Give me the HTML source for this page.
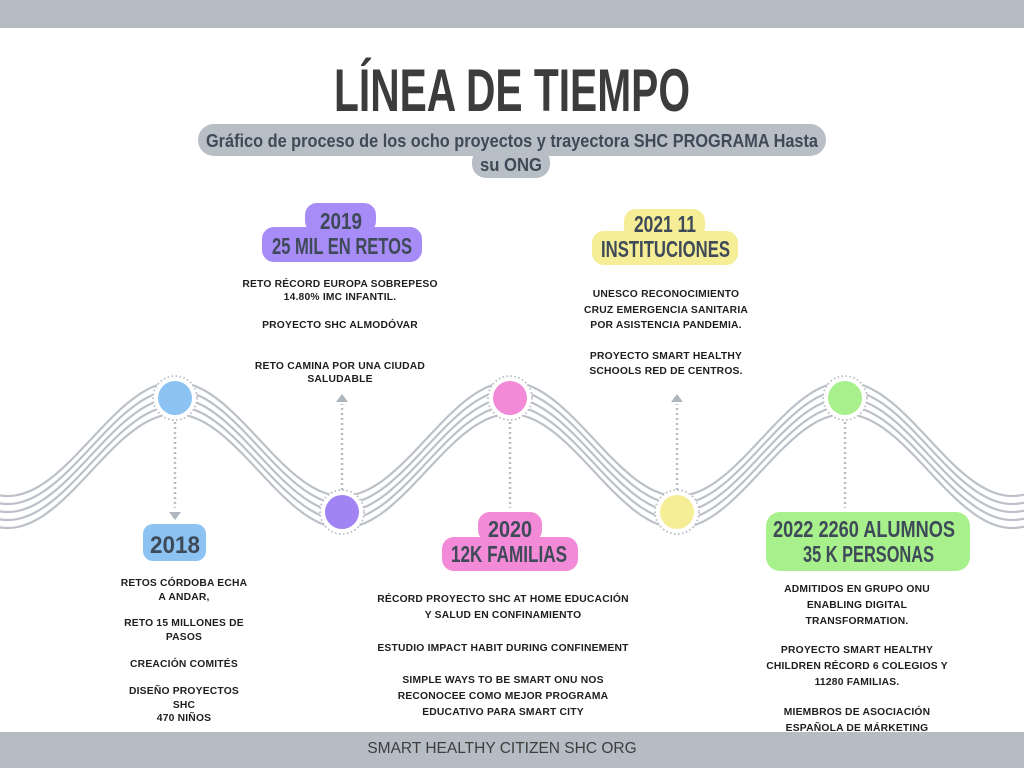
<!DOCTYPE html>
<html><head><meta charset="utf-8"><style>
html,body{margin:0;padding:0;background:#fff;width:1024px;height:768px;overflow:hidden}
svg{display:block}
.c{font-family:"Liberation Sans Narrow","Liberation Sans",sans-serif;font-weight:bold;fill:#3f4a58}
.b{font-family:"Liberation Sans",sans-serif;font-weight:bold;font-size:10.3px;letter-spacing:0.2px;fill:#1e1e1e;text-anchor:middle}
</style></head><body>
<svg id="s" width="1024" height="768" viewBox="0 0 1024 768" xmlns="http://www.w3.org/2000/svg">
<rect x="0" y="0" width="1024" height="28" fill="#b6bcc3"/>
<rect x="0" y="732" width="1024" height="36" fill="#b6bcc3"/>
<text x="502" y="749" text-anchor="middle" font-family="Liberation Sans,sans-serif" font-size="15.5" fill="#3d3d3d" dominant-baseline="middle">SMART HEALTHY CITIZEN SHC ORG</text>

<text class="c" x="334" y="111" font-size="60" style="fill:#3c3c3c" textLength="356" lengthAdjust="spacingAndGlyphs">LÍNEA DE TIEMPO</text>
<rect x="198" y="124" width="628" height="32" rx="16" fill="#b8bec5"/>
<rect x="472" y="148" width="78" height="30" rx="14" fill="#b8bec5"/>
<text class="c" x="206" y="147" font-size="18" textLength="612" lengthAdjust="spacingAndGlyphs">Gráfico de proceso de los ocho proyectos y trayectora SHC PROGRAMA Hasta</text>
<text class="c" x="480" y="171" font-size="18" textLength="62" lengthAdjust="spacingAndGlyphs">su ONG</text>

<g id="waves" fill="none" stroke="#bcc1c7" stroke-width="2.2"></g>

<g stroke="#b8bdc3" stroke-width="2.5" stroke-dasharray="2 3">
<line x1="175" y1="422" x2="175" y2="508"/>
<line x1="342" y1="490" x2="342" y2="404"/>
<line x1="510" y1="422" x2="510" y2="508"/>
<line x1="677" y1="490" x2="677" y2="404"/>
<line x1="845" y1="422" x2="845" y2="508"/>
</g>
<g fill="#b0b6bd">
<polygon points="169,512 181,512 175,520"/>
<polygon points="336,402 348,402 342,394"/>
<polygon points="504,512 516,512 510,520"/>
<polygon points="671,402 683,402 677,394"/>
<polygon points="839,512 851,512 845,520"/>
</g>

<g stroke="#b8bdc3" stroke-width="1.8" stroke-dasharray="1.5 2.5">
<circle cx="175" cy="398" r="22" fill="#fff"/>
<circle cx="342" cy="512" r="22" fill="#fff"/>
<circle cx="510" cy="398" r="22" fill="#fff"/>
<circle cx="677" cy="512" r="22" fill="#fff"/>
<circle cx="845" cy="398" r="22" fill="#fff"/>
</g>
<circle cx="175" cy="398" r="17" fill="#8dc3f3"/>
<circle cx="342" cy="512" r="17" fill="#a183f3"/>
<circle cx="510" cy="398" r="17" fill="#f28ad7"/>
<circle cx="677" cy="512" r="17" fill="#f5ee96"/>
<circle cx="845" cy="398" r="17" fill="#a8f08c"/>

<rect x="305" y="203" width="71" height="30" rx="12" fill="#a78bf6"/>
<rect x="262" y="227" width="160" height="35" rx="12" fill="#a78bf6"/>
<text class="c" x="320" y="229" font-size="23" textLength="42" lengthAdjust="spacingAndGlyphs">2019</text>
<text class="c" x="272" y="254" font-size="23" textLength="140" lengthAdjust="spacingAndGlyphs">25 MIL EN RETOS</text>
<text class="b" x="340" y="287">RETO RÉCORD EUROPA SOBREPESO</text>
<text class="b" x="340" y="300">14.80% IMC INFANTIL.</text>
<text class="b" x="340" y="328">PROYECTO SHC ALMODÓVAR</text>
<text class="b" x="340" y="369">RETO CAMINA POR UNA CIUDAD</text>
<text class="b" x="340" y="382">SALUDABLE</text>

<rect x="624" y="209" width="81" height="30" rx="12" fill="#f5ee96"/>
<rect x="592" y="231" width="146" height="34" rx="12" fill="#f5ee96"/>
<text class="c" x="634" y="232" font-size="23" textLength="62" lengthAdjust="spacingAndGlyphs">2021 11</text>
<text class="c" x="601" y="257" font-size="23" textLength="129" lengthAdjust="spacingAndGlyphs">INSTITUCIONES</text>
<text class="b" x="666" y="297">UNESCO RECONOCIMIENTO</text>
<text class="b" x="666" y="313">CRUZ EMERGENCIA SANITARIA</text>
<text class="b" x="666" y="328">POR ASISTENCIA PANDEMIA.</text>
<text class="b" x="666" y="359">PROYECTO SMART HEALTHY</text>
<text class="b" x="666" y="374">SCHOOLS RED DE CENTROS.</text>

<rect x="143" y="524" width="63" height="37" rx="10" fill="#8dc3f3"/>
<text class="c" x="150" y="553" font-size="24" textLength="50" lengthAdjust="spacingAndGlyphs">2018</text>
<text class="b" x="184" y="586">RETOS CÓRDOBA ECHA</text>
<text class="b" x="184" y="600">A ANDAR,</text>
<text class="b" x="184" y="626">RETO 15 MILLONES DE</text>
<text class="b" x="184" y="640">PASOS</text>
<text class="b" x="184" y="667">CREACIÓN COMITÉS</text>
<text class="b" x="184" y="694">DISEÑO  PROYECTOS</text>
<text class="b" x="184" y="708">SHC</text>
<text class="b" x="184" y="721">470 NIÑOS</text>

<rect x="478" y="512" width="64" height="30" rx="12" fill="#f28ad7"/>
<rect x="442" y="537" width="136" height="34" rx="12" fill="#f28ad7"/>
<text class="c" x="488" y="537" font-size="23" textLength="44" lengthAdjust="spacingAndGlyphs">2020</text>
<text class="c" x="451" y="562" font-size="23" textLength="116" lengthAdjust="spacingAndGlyphs">12K FAMILIAS</text>
<text class="b" x="503" y="602">RÉCORD PROYECTO SHC AT HOME EDUCACIÓN</text>
<text class="b" x="503" y="618">Y SALUD EN CONFINAMIENTO</text>
<text class="b" x="503" y="651">ESTUDIO IMPACT HABIT DURING CONFINEMENT</text>
<text class="b" x="503" y="683">SIMPLE WAYS TO BE SMART ONU NOS</text>
<text class="b" x="503" y="699">RECONOCEE COMO MEJOR PROGRAMA</text>
<text class="b" x="503" y="715">EDUCATIVO PARA SMART CITY</text>

<rect x="766" y="512" width="204" height="59" rx="14" fill="#a8f08c"/>
<text class="c" x="773" y="537" font-size="23" textLength="182" lengthAdjust="spacingAndGlyphs">2022 2260 ALUMNOS</text>
<text class="c" x="803" y="562" font-size="23" textLength="131" lengthAdjust="spacingAndGlyphs">35 K PERSONAS</text>
<text class="b" x="857" y="592">ADMITIDOS EN GRUPO ONU</text>
<text class="b" x="857" y="608">ENABLING DIGITAL</text>
<text class="b" x="857" y="624">TRANSFORMATION.</text>
<text class="b" x="857" y="653">PROYECTO SMART HEALTHY</text>
<text class="b" x="857" y="669">CHILDREN RÉCORD 6 COLEGIOS Y</text>
<text class="b" x="857" y="685">11280 FAMILIAS.</text>
<text class="b" x="857" y="715">MIEMBROS DE ASOCIACIÓN</text>
<text class="b" x="857" y="731">ESPAÑOLA DE MÁRKETING</text>
</svg>
<script>
(function(){
var g=document.getElementById('waves');
var offs=[-16,-8,0,8,16];
offs.forEach(function(o){
 var d='';
 for(var x=0;x<=1024;x+=4){
  var y=455+o-57*Math.cos(2*Math.PI*(x-175)/335);
  d+=(x?'L':'M')+x+' '+y.toFixed(1);
 }
 var p=document.createElementNS('http://www.w3.org/2000/svg','path');
 p.setAttribute('d',d);g.appendChild(p);
});
})();
</script>
</body></html>
